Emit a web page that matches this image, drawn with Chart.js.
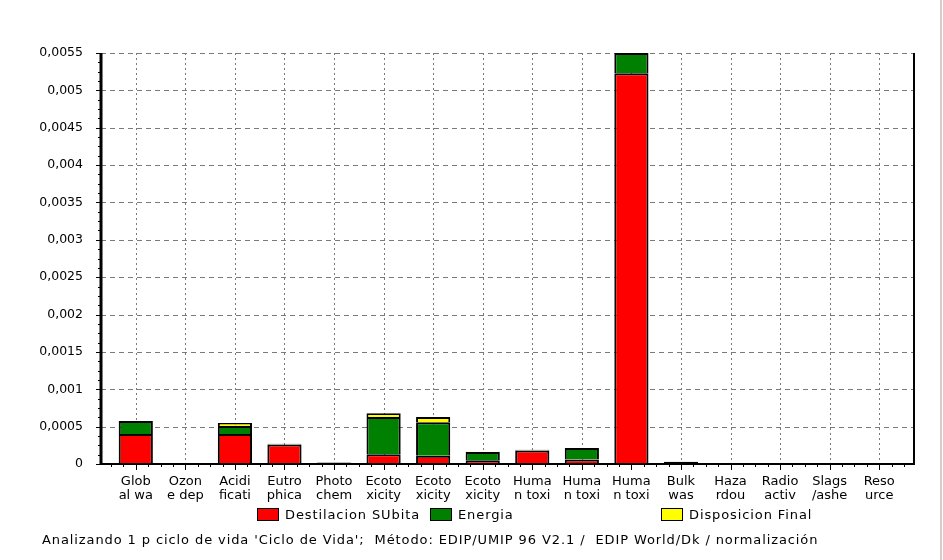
<!DOCTYPE html>
<html>
<head>
<meta charset="utf-8">
<script src="https://cdn.jsdelivr.net/npm/chart.js@4/dist/chart.umd.min.js"></script>
<style>
  html, body { margin: 0; padding: 0; background: #fff; }
  #wrap { position: relative; width: 943px; height: 560px; overflow: hidden; background: #fff; }
  #c { position: absolute; left: 0; top: 0; }
  .legend-item { position: absolute; top: 505px; height: 18px; display: flex; align-items: center;
    font: 13px "DejaVu Sans", sans-serif; letter-spacing: 0.9px; color: #000; white-space: pre; }
  .legend-box { width: 20px; height: 11px; border: 1px solid #000; margin-right: 6px; }
  #footer { position: absolute; left: 42px; top: 532px; font: 13px "DejaVu Sans", sans-serif;
    letter-spacing: 0.9px; color: #000; white-space: pre; }
  #edge { position: absolute; left: 940px; top: 0; width: 2px; height: 560px; background: #d4d0c8; }
</style>
</head>
<body>
<div id="wrap">
  <canvas id="c" width="943" height="560"></canvas>
  <div id="legend"></div>
  <div id="footer"></div>
  <div id="edge"></div>
</div>
<script>
// Impact categories (names shown in two short lines)
const categories = [
  ['Glob', 'al wa'], ['Ozon', 'e dep'], ['Acidi', 'ficati'], ['Eutro', 'phica'],
  ['Photo', 'chem'], ['Ecoto', 'xicity'], ['Ecoto', 'xicity'], ['Ecoto', 'xicity'],
  ['Huma', 'n toxi'], ['Huma', 'n toxi'], ['Huma', 'n toxi'], ['Bulk', 'was'],
  ['Haza', 'rdou'], ['Radio', 'activ'], ['Slags', '/ashe'], ['Reso', 'urce']
];

// Normalized results per process
const destilacion = [0.0004, null, 0.0004, 0.00026, null, 0.00013, 0.00011, 0.00005, 0.00018, 0.00006, 0.00523, null, null, null, null, null];
const energia     = [0.000175, null, 0.00011, null, null, 0.0005, 0.00045, 0.00011, null, 0.000155, 0.00027, 0.00003, null, null, null, null];
const disposicion = [null, 0.000015, 0.00004, 0.00001, 0.00002, 0.00005, 0.00007, 0.000005, 0.00001, null, null, null, null, null, null, null];

const seriesNames = ['Destilacion SUbita', 'Energia', 'Disposicion Final'];
const seriesColors = ['#ff0000', '#008000', '#ffff00'];

// Value axis
const yMax = 0.0055;
const yStep = 0.0005;

const footerText = "Analizando 1 p ciclo de vida 'Ciclo de Vida';  Método: EDIP/UMIP 96 V2.1 /  EDIP World/Dk / normalización";

const FONT = '"DejaVu Sans", sans-serif';
const FRAME_GAP = 10; // space between the plot frame and the first/last category

// Gridlines behind the bars, axis frame and minor tick marks in front
const frame = {
  id: 'frame',
  beforeDatasetsDraw(chart) {
    const { ctx, chartArea: a, scales: { x, y } } = chart;
    const L = a.left - FRAME_GAP, R = a.right + FRAME_GAP;
    ctx.save();
    ctx.strokeStyle = '#7a7a7a';
    ctx.lineWidth = 1;
    ctx.setLineDash([5, 4]);
    y.ticks.forEach(t => {
      if (t.value === 0) return;
      const py = Math.round(y.getPixelForValue(t.value)) + 0.5;
      ctx.beginPath(); ctx.moveTo(L, py); ctx.lineTo(R, py); ctx.stroke();
    });
    ctx.setLineDash([2, 3]);
    for (let i = 0; i < categories.length; i++) {
      const px = Math.round(x.getPixelForTick(i)) + 0.5;
      ctx.beginPath(); ctx.moveTo(px, a.top); ctx.lineTo(px, a.bottom); ctx.stroke();
    }
    ctx.restore();
  },
  afterDatasetsDraw(chart) {
    const { ctx, chartArea: a, scales: { x, y } } = chart;
    const L = a.left - FRAME_GAP, R = a.right + FRAME_GAP;
    ctx.save();
    ctx.setLineDash([]);
    ctx.strokeStyle = '#000';
    ctx.lineWidth = 1;
    // minor / major ticks on the value axis
    const sub = yStep / 4;
    for (let k = 0; k * sub <= yMax + 1e-12; k++) {
      const py = Math.round(y.getPixelForValue(k * sub)) + 0.5;
      const len = (k % 4 === 0) ? 5 : 3;
      ctx.beginPath(); ctx.moveTo(L - len, py); ctx.lineTo(L, py); ctx.stroke();
    }
    // minor / major ticks on the category axis
    const n = categories.length;
    for (let k = 0; k <= n * 4; k++) {
      const v = -0.5 + k / 4;
      const px = Math.round(x.getPixelForValue(v)) + 0.5;
      const len = (k % 4 === 2) ? 6 : 3;
      ctx.beginPath(); ctx.moveTo(px, a.bottom); ctx.lineTo(px, a.bottom + len); ctx.stroke();
    }
    // axis frame
    ctx.lineWidth = 2;
    ctx.beginPath(); ctx.moveTo(L, a.bottom); ctx.lineTo(R + 1, a.bottom); ctx.stroke();
    ctx.beginPath(); ctx.moveTo(R, a.top); ctx.lineTo(R, a.bottom); ctx.stroke();
    ctx.lineWidth = 3;
    ctx.beginPath(); ctx.moveTo(L, a.top); ctx.lineTo(L, a.bottom + 1); ctx.stroke();
    ctx.restore();
  }
};

const seriesData = [destilacion, energia, disposicion];

new Chart(document.getElementById('c'), {
  type: 'bar',
  data: {
    labels: categories,
    datasets: seriesData.map((d, i) => ({
      label: seriesNames[i],
      data: d,
      backgroundColor: seriesColors[i],
      borderColor: '#000',
      borderWidth: { top: 2, left: 2, right: 2, bottom: 0 },
      borderSkipped: false,
      barPercentage: 0.69,
      categoryPercentage: 1.0
    }))
  },
  options: {
    responsive: false,
    animation: false,
    layout: { padding: { left: 0, top: 53, right: 39, bottom: 0 } },
    plugins: { legend: { display: false }, tooltip: { enabled: false } },
    scales: {
      x: {
        stacked: true,
        grid: { display: false },
        border: { display: false },
        ticks: {
          autoSkip: false, maxRotation: 0, minRotation: 0, padding: 3,
          color: '#000', font: { family: FONT, size: 13, lineHeight: 1.08 }
        },
        afterFit(s) { s.height = 96; }
      },
      y: {
        stacked: true,
        min: 0, max: yMax,
        grid: { display: false },
        border: { display: false },
        ticks: {
          stepSize: yStep, padding: 20, color: '#000',
          font: { family: FONT, size: 12.5 },
          callback: v => String(Number(Number(v).toFixed(4))).replace('.', ',')
        },
        afterFit(s) { s.width = 111; }
      }
    }
  },
  plugins: [frame]
});

// Legend and footer text
const legendPos = [257, 430, 661];
const legend = document.getElementById('legend');
seriesNames.forEach((name, i) => {
  const item = document.createElement('div');
  item.className = 'legend-item';
  item.style.left = legendPos[i] + 'px';
  const box = document.createElement('span');
  box.className = 'legend-box';
  box.style.background = seriesColors[i];
  const txt = document.createElement('span');
  txt.textContent = name;
  item.appendChild(box); item.appendChild(txt);
  legend.appendChild(item);
});
document.getElementById('footer').textContent = footerText;
</script>
</body>
</html>
